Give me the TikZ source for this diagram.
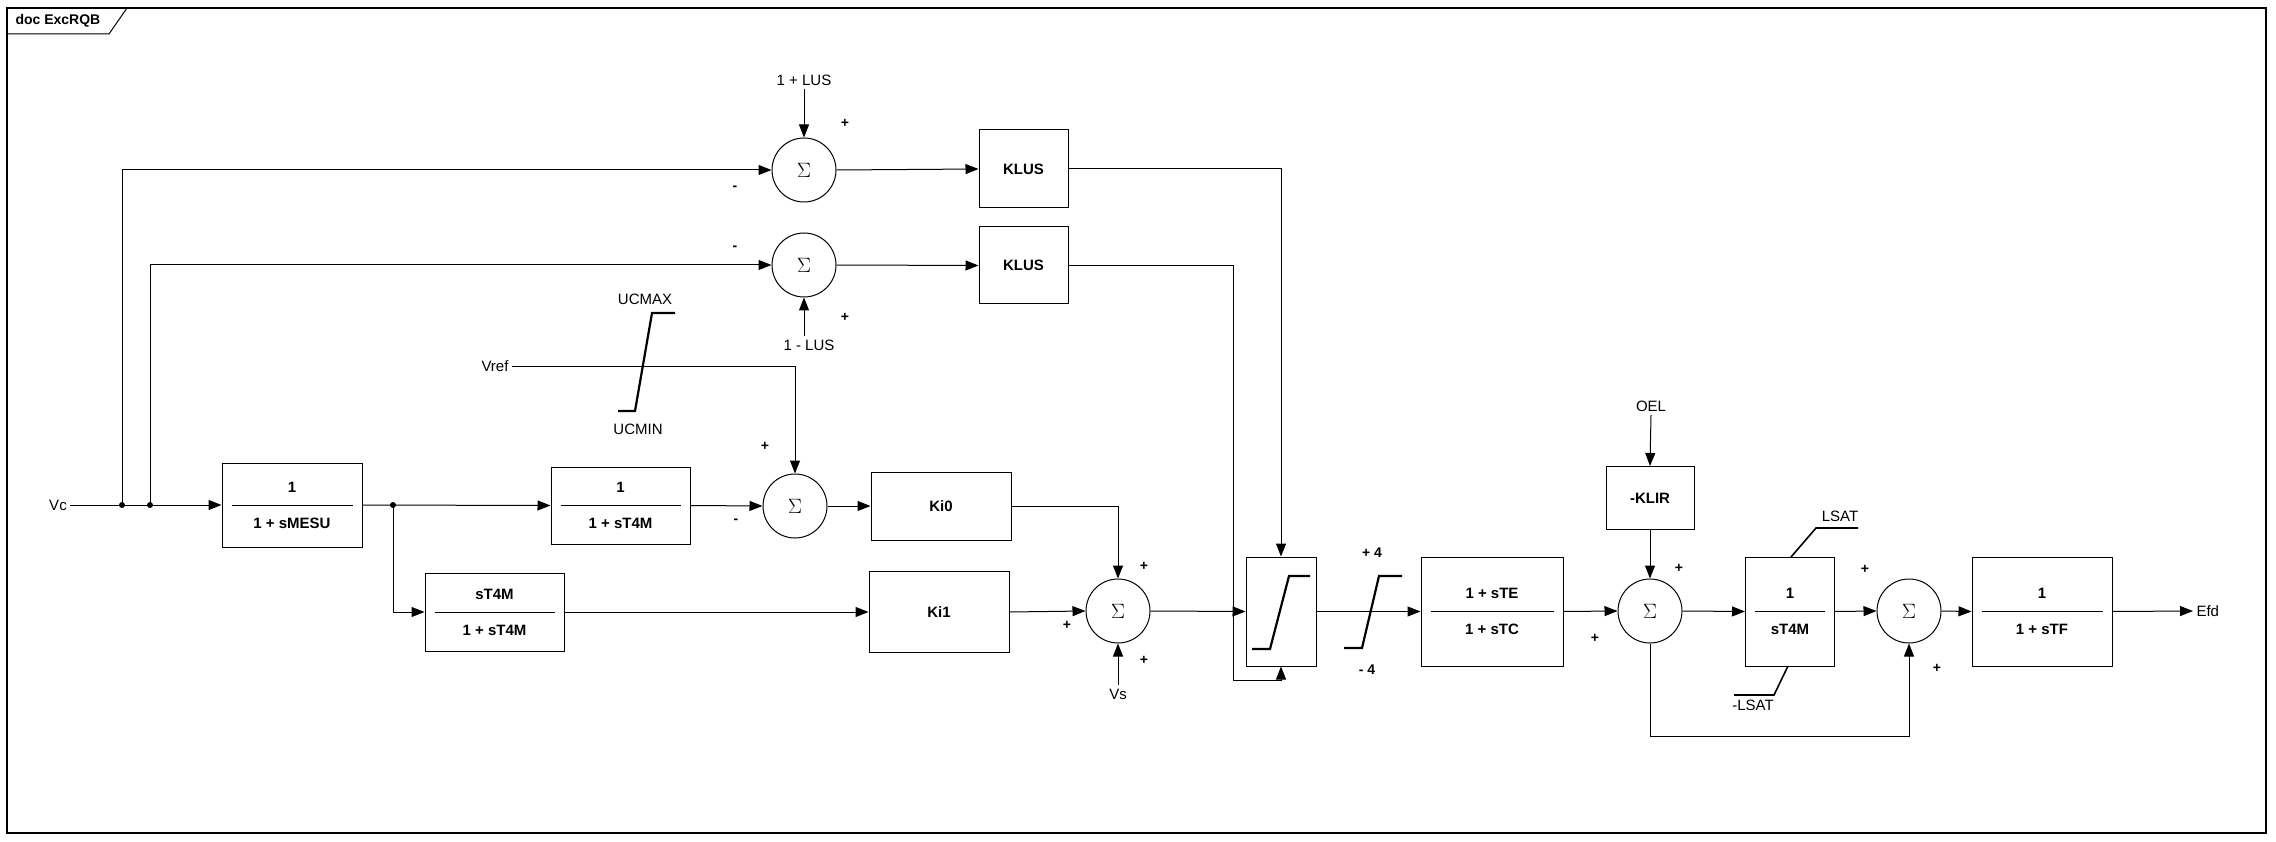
\documentclass[tikz,border=0pt]{standalone}
\usepackage{fontspec}
\setmainfont{Liberation Sans}
\usetikzlibrary{arrows.meta}
\newcommand\fblk[7]{%
  \node[blk,minimum width=#4pt,minimum height=#5pt] (#1) at (#2,#3) {};
  \draw[thick] ([xshift=10pt]#1.west) -- ([xshift=-10pt]#1.east);
  \node[btxt] at ([yshift=18pt]#1.center) {#6};
  \node[btxt] at ([yshift=-18pt]#1.center) {#7};}
\begin{document}
\begin{tikzpicture}[x=1pt,y=-1pt,
  blk/.style={draw,line width=1pt,inner sep=0pt},
  btxt/.style={font=\fontsize{15}{17}\selectfont\bfseries},
  sig/.style={font=\fontsize{15}{17}\selectfont},
  sgn/.style={font=\fontsize{14}{16}\selectfont\bfseries},
  sumn/.style={draw,circle,line width=1pt,minimum size=64pt,inner sep=0pt,font=\fontsize{22}{24}\selectfont},
  arr/.style={line width=1pt,-{Triangle[length=13pt,width=10pt]}},
  ln/.style={line width=1pt},
  sat/.style={line width=2.2pt}]
\useasboundingbox (0,0) rectangle (2276,842);
% frame
\draw[line width=1.2pt] (7,8) rectangle (2266,833);
\draw[line width=1pt] (7,34) -- (109,34) -- (127,8);
\node[font=\fontsize{14}{16}\selectfont\bfseries,anchor=west] at (12,21) {doc ExcRQB};
% sums
\node[sumn] (s1) at (804,170) {$\Sigma$};
\node[sumn] (s2) at (804,265) {$\Sigma$};
\node[sumn] (s3) at (795,506) {$\Sigma$};
\node[sumn] (s4) at (1118,611) {$\Sigma$};
\node[sumn] (s5) at (1650,611) {$\Sigma$};
\node[sumn] (s6) at (1909,611) {$\Sigma$};
% blocks
\fblk{mesu}{292}{505}{140}{84}{1}{1 + sMESU}
\fblk{tfm1}{620.5}{505.5}{139}{77}{1}{1 + sT4M}
\fblk{stfm}{494.5}{612}{139}{78}{sT4M}{1 + sT4M}
\node[blk,btxt,minimum width=140pt,minimum height=68pt] (ki0) at (941,506) {Ki0};
\node[blk,btxt,minimum width=140pt,minimum height=81pt] (ki1) at (939,612) {Ki1};
\node[blk,btxt,minimum width=89pt,minimum height=78pt] (klus1) at (1023.5,169) {KLUS};
\node[blk,btxt,minimum width=89pt,minimum height=77pt] (klus2) at (1023.5,265.5) {KLUS};
\node[blk,minimum width=70pt,minimum height=109pt] (lim) at (1281,611.5) {};
\draw[sat] (1252,649) -- (1270,649) -- (1289,576) -- (1310,576);
\fblk{te}{1492}{611.5}{142}{109}{1 + sTE}{1 + sTC}
\node[blk,btxt,minimum width=88pt,minimum height=63pt] (klir) at (1650,498) {-KLIR};
\fblk{tfm2}{1790}{611.5}{89}{109}{1}{sT4M}
\fblk{tf}{2042}{611.5}{140}{109}{1}{1 + sTF}
% signal labels
\node[sig] (vc) at (58,505) {Vc};
\node[sig] (lus1) at (804,80) {1 + LUS};
\node[sig] (lus2) at (809,345) {1 - LUS};
\node[sig] (vref) at (495,366) {Vref};
\node[sig] (oel) at (1651,406) {OEL};
\node[sig] (vs) at (1118,694) {Vs};
\node[sig,anchor=west] (efd) at (2193,611) {Efd};
\node[sig] at (645,299) {UCMAX};
\node[sig] at (638,429) {UCMIN};
\node[sig] at (1840,516) {LSAT};
\node[sig] at (1753,705) {-LSAT};
\draw[sat] (618,411) -- (635,411) -- (652,313) -- (675,313);
\draw[line width=1.6pt] (1791,557) -- (1816,528) -- (1858,528);
\draw[line width=1.6pt] (1788,666) -- (1774,695) -- (1734,695);
% connectors
\coordinate (d1) at (122,505);
\coordinate (d2) at (150,505);
\coordinate (d3) at (393,505);
\draw[arr] (vc.east) -- (mesu.west);
\fill (d1) circle (3pt) (d2) circle (3pt) (d3) circle (3pt);
\draw[arr] (d1) |- (s1.west);
\draw[arr] (d2) |- (s2.west);
\draw[arr] (lus1.south) -- (s1.north);
\draw[arr] (lus2.north -| s2) -- (s2.south);
\draw[arr] (s1.east) -- (klus1.west);
\draw[arr] (s2.east) -- (klus2.west);
\draw[arr] (mesu.east) -- (tfm1.west);
\draw[arr] (d3) |- (stfm.west);
\draw[arr] (tfm1.east) -- (s3.west);
\draw[arr] (vref.east) -| (s3.north);
\draw[arr] (s3.east) -- (ki0.west);
\draw[arr] (stfm.east) -- (stfm.east -| ki1.west);
\draw[arr] (ki1.east) -- (s4.west);
\draw[arr] (ki0.east) -| (s4.north);
\draw[arr] (vs.north) -- (s4.south);
\draw[arr] (s4.east) -- (lim.west);
\draw[arr] (klus1.east) -| (lim.north);
\coordinate (c1) at (1233,680);
\draw[arr] (klus2.east) -| (c1) -| (lim.south);
\draw[arr] (lim.east) -- (te.west);
\draw[sat] (1344,648) -- (1362,648) -- (1379,576) -- (1402,576);
\draw[arr] (te.east) -- (s5.west);
\draw[arr] (oel.south) -- (klir.north);
\draw[arr] (klir.south) -- (s5.north);
\draw[arr] (s5.east) -- (tfm2.west);
\draw[arr] (tfm2.east) -- (s6.west);
\draw[arr] (s5.south) -- ++(0,93) -| (s6.south);
\draw[arr] (s6.east) -- (tf.west);
\draw[arr] (tf.east) -- (efd.west);
% signs
\node[sgn] at (845,123) {+};
\node[sgn] at (735,188) {-};
\node[sgn] at (735,248) {-};
\node[sgn] at (845,317) {+};
\node[sgn] at (765,446) {+};
\node[sgn] at (736,521) {-};
\node[sgn] at (1144,566) {+};
\node[sgn] at (1144,660) {+};
\node[sgn] at (1067,625) {+};
\node[sgn] at (1372,553) {+ 4};
\node[sgn] at (1367,670) {- 4};
\node[sgn] at (1679,568) {+};
\node[sgn] at (1595,638) {+};
\node[sgn] at (1865,569) {+};
\node[sgn] at (1937,668) {+};
\end{tikzpicture}
\end{document}
